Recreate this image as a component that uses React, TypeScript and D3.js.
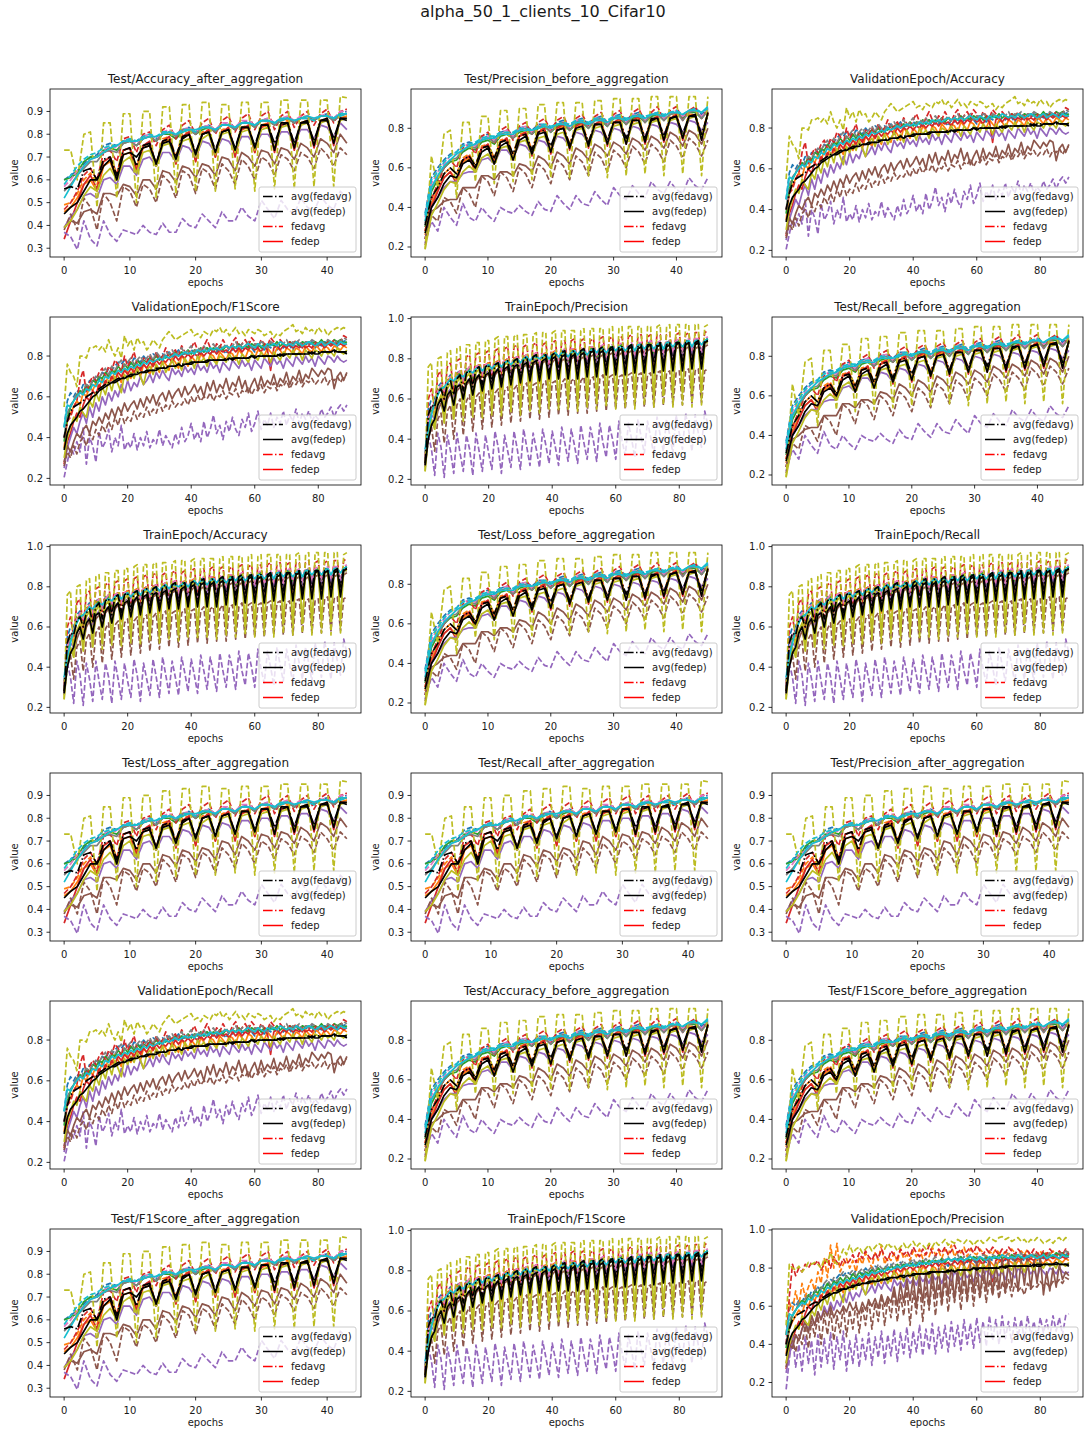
import React from 'react';
import * as d3 from 'd3';

// ---------- colours (matplotlib tab10) ----------
const C = {
  blue: '#1f77b4', orange: '#ff7f0e', green: '#2ca02c', red: '#d62728', purple: '#9467bd',
  brown: '#8c564b', pink: '#e377c2', gray: '#7f7f7f', olive: '#bcbd22', cyan: '#17becf',
};

// ---------- Test/*_after_aggregation (epochs 0..43), values in % ----------
const oliveDashedA = [73,73,60,80,81,48,85,85,52,89,89,50,90,90,52,92,92,54,93,93,55,94,94,55,93,93,56,94,94,55,94,94,56,95,95,56,95,95,57,95,95,57,96.5,96];
const purpleDashedA = [37,35,29.5,42,34,31,42,36,33,38,37,36,40,37,36,41,37,37,43,40,39,45,42,39,46,42,42,48,44,42,51,47,43,51,47,45,52,48,46,53,49,47,55,52];
const brownDashedA = [38,45,38,52,48,38,54,50,42,57,55,48,58,56,50,62,59,52,64,62,54,65,63,56,67,64,58,69,66,60,70,68,62,71,69,64,72,70,65,74,71,66,74,71];
const brownSolidA = [39,42,41,46,47,45,54,54,53,58,57,53,60,60,56,64,63,59,66,65,61,67,66,62,70,69,64,72,70,66,73,72,67,74,73,69,76,74,70,78,76,72,80,76];
const purpleSolidA = [39,44,47,53,54,52,60,61,58,66,66,62,69,70,66,72,72,68,75,74,70,77,76,72,78,77,73,79,79,75,80,80,76,81,81,77,82,82,78,84,83,79,85,82];
const cyanSolidA = [52,57,62,66,69,70,72,74,75,77,77,77,78,79,79,80,81,80,81,82,82,83,83,82,84,84,83,85,85,84,86,86,85,87,87,86,87,88,87,88,88,87,89,89];
const cyanDashedA = [58,62,66,69,71,72,74,75,75,77,78,77,79,80,79,81,81,80,82,82,81,83,83,82,84,84,83,85,85,84,86,86,85,86,87,86,87,87,86,88,88,87,88,89];
const blueDashedA = [60,62,64,67,70,71,75,76,75,77,78,77,79,80,78,81,81,79,82,83,81,83,84,82,84,85,83,85,86,84,86,87,85,87,87,85,87,88,86,88,89,87,89,90];
const greenSolidA = [60,61,63,68,70,70,73,74,73,76,77,75,78,79,77,80,80,78,81,82,80,82,83,81,84,84,82,85,85,83,86,86,84,86,87,85,87,88,86,88,88,86,89,89];
const pinkDashedA = [57,60,64,66,69,70,73,75,74,77,78,76,79,80,78,81,82,80,82,83,81,83,84,82,85,85,83,86,86,84,86,87,85,87,88,86,88,88,87,88,89,87,90,90];
const graySolidA = [55,58,62,65,68,68,72,73,72,76,77,75,78,79,77,80,81,79,82,82,80,83,83,81,84,84,82,85,85,83,86,86,84,86,87,85,87,87,86,88,88,86,88,89];
const redDashedA = [47,50,55,62,65,60,72,73,68,78,79,72,80,81,75,82,84,78,84,86,80,85,87,80,86,88,81,87,89,82,88,90,82,88,90,83,88,90,84,89,91,85,90,91];
const redSolidA = [34,42,50,58,62,56,68,70,62,73,74,64,75,77,66,77,79,67,79,81,68,80,82,70,81,83,70,82,84,72,83,85,72,84,85,73,84,86,74,85,87,75,87,87];
const orangeSolidA = [46,48,52,58,60,55,66,68,60,71,72,64,74,75,66,76,78,67,78,80,68,80,81,70,81,82,71,82,83,72,83,84,73,84,85,74,85,86,75,86,86,76,87,88];
const orangeDashedA = [49,50,54,60,63,58,68,70,63,73,74,66,75,76,67,78,79,70,80,81,71,81,82,72,82,83,73,83,84,74,84,85,74,85,86,75,85,86,76,86,87,77,87,88];
const oliveSolidA = [39,42,47,53,57,55,62,65,60,68,70,63,72,73,66,75,76,68,77,78,70,78,80,71,80,81,72,81,82,73,82,83,74,83,84,75,84,85,76,85,86,77,86,87];
const avgFedavgA = [56,57,56,64,65,60,69,70,62,73,74,66,75,76,67,77,78,70,79,80,72,80,81,73,81,82,74,83,83,75,84,84,76,84,85,76,85,85,77,86,86,78,87,87];
const avgFedepA = [45,48,50,55,60,60,66,69,60,71,72,70,74,75,67,76,77,69,78,80,71,80,81,72,81,82,73,83,83,74,84,84,73,85,85,74,85,86,75,86,87,76,87,86];

// ---------- Test/*_before_aggregation (epochs 0..45) ----------
const oliveDashedB = [18.8,66,50,77,79,45,83,83,53,86,86,52,89,89,53,90,90,54,92,92,55,93,93,55,93,93,56,94,94,55,95,95,56,95,95,57,96,96,56,96,96,57,96,96,56,96];
const purpleDashedB = [22,33,28,40,35,31,42,35,33,40,36,33,40,38,37,41,38,36,43,39,38,46,42,39,46,42,41,48,44,41,50,46,44,51,47,45,53,49,47,53,49,47,55,51,49,55];
const brownDashedB = [21,36,33,45,43,37,50,47,40,56,53,46,58,55,48,60,57,50,62,59,52,64,61,54,66,63,56,68,65,58,69,66,60,71,68,62,72,69,63,74,71,65,75,72,66,74];
const brownSolidB = [24,38,40,43,44,44,50,50,50,56,56,54,58,58,56,62,61,58,66,64,60,68,66,62,70,68,64,72,70,66,73,71,67,75,73,69,76,74,70,78,76,71,79,77,72,80];
const purpleSolidB = [24,40,45,50,53,53,57,58,58,64,65,62,69,69,65,72,71,67,74,73,69,76,75,71,78,77,73,79,78,74,80,79,75,81,80,76,82,81,77,83,82,78,84,83,79,83];
const cyanSolidB = [33,50,56,61,64,67,69,71,72,74,75,75,77,77,77,79,79,79,80,81,80,82,82,81,83,83,82,84,84,83,85,85,84,86,86,85,87,87,86,88,88,87,89,89,88,91];
const cyanDashedB = [36,54,58,63,66,68,71,72,73,75,76,76,78,78,78,80,80,79,81,82,81,82,83,82,84,84,83,85,85,84,86,86,85,86,87,86,87,88,87,88,89,87,89,90,88,90];
const blueDashedB = [37,55,60,64,67,68,72,73,72,76,77,75,78,79,77,80,81,79,82,82,80,83,84,81,84,85,82,85,86,83,86,87,84,87,88,85,87,88,86,88,89,86,89,90,87,90];
const greenSolidB = [30,48,54,60,63,64,68,70,69,73,74,72,76,77,75,78,79,77,80,81,78,81,82,79,82,83,80,84,84,81,85,85,82,85,86,83,86,87,84,87,88,85,88,88,85,89];
const pinkDashedB = [35,52,58,62,66,67,71,72,71,75,76,74,78,79,76,80,81,78,81,82,79,82,83,80,84,84,81,85,85,82,86,86,83,87,87,84,87,88,85,88,89,86,89,89,86,90];
const graySolidB = [32,50,55,60,64,65,69,71,70,74,75,73,77,78,75,79,80,77,81,81,78,82,83,79,83,84,80,84,85,81,85,86,82,86,87,83,87,87,84,87,88,84,88,89,85,89];
const redDashedB = [28,44,52,60,64,60,70,72,67,76,78,72,79,81,74,81,83,77,83,85,79,84,86,80,85,87,81,86,88,82,87,89,82,88,90,83,88,91,84,89,91,84,89,91,85,90];
const redSolidB = [24,40,48,55,58,52,64,66,58,70,72,62,73,75,64,76,78,66,78,80,67,80,82,69,81,83,70,82,84,71,83,85,72,84,86,72,84,86,73,85,87,74,86,87,74,88];
const orangeSolidB = [26,42,49,55,58,54,63,65,58,70,71,63,73,74,65,76,77,67,78,79,68,79,81,70,80,82,71,81,83,72,82,84,73,83,85,73,84,85,74,85,86,75,86,87,75,88];
const orangeDashedB = [28,45,51,57,60,57,65,67,61,71,72,65,74,75,67,77,78,69,79,80,70,80,81,72,81,82,73,82,83,74,83,84,74,84,85,75,85,86,76,86,87,76,87,87,77,88];
const oliveSolidB = [19,36,42,49,53,52,58,61,58,65,67,62,70,71,65,73,74,67,75,76,69,77,78,70,79,80,71,80,81,72,81,82,73,82,83,74,83,84,75,84,85,76,85,86,76,87];
const avgFedavgB = [31,45,50,57,60,57,64,66,61,70,71,65,73,74,67,76,77,69,78,79,71,79,80,72,80,81,73,82,82,74,83,83,75,84,84,75,84,85,76,85,86,77,86,86,77,87];
const avgFedepB = [27,40,45,52,56,55,62,64,60,68,70,62,71,73,64,74,76,67,77,78,68,79,80,70,80,81,71,82,82,72,83,83,72,84,84,73,85,85,74,85,86,75,86,87,74,88];

// ---------- TrainEpoch/* (epochs 0..89) ----------
const oliveDashedT = [24,76,78,45,80,81,48,83,84,50,85,86,49,87,87,51,88,88,50,89,89,52,90,91,51,91,91,53,91,92,52,92,92,54,92,93,53,93,93,55,93,94,54,94,94,55,94,94,54,94,95,56,95,95,55,95,95,56,95,96,55,95,96,56,96,96,55,96,96,57,96,96,56,96,97,57,96,97,56,97,97,57,97,97,56,97,97,57,96,97];
const purpleDashedT = [30,42,35,22,43,36,21,42,34,23,43,33,24,42,35,22,43,34,24,42,33,25,44,36,23,42,34,26,44,35,25,45,36,27,43,35,26,45,37,28,44,36,27,46,38,29,45,37,28,47,38,30,46,39,29,48,38,31,47,40,30,49,39,32,48,40,31,50,41,33,49,41,32,51,42,34,50,42,33,52,43,35,53,44,34,52,43,36,54,47];
const brownDashedT = [26,40,46,34,50,53,38,54,57,40,57,60,42,59,62,44,61,63,45,62,64,46,63,65,47,64,66,48,65,67,49,66,68,50,67,68,50,67,69,51,68,69,52,68,70,52,69,70,53,69,71,53,70,71,54,70,72,54,71,72,55,71,72,55,72,73,56,72,73,56,72,73,56,73,74,57,73,74,57,73,74,57,74,75,58,74,75,58,74,75];
const brownSolidT = [28,42,48,46,54,58,52,60,63,56,64,66,60,67,69,62,69,71,64,71,73,66,72,74,67,74,75,68,75,76,69,76,77,70,77,78,71,78,79,72,78,80,72,79,80,73,80,81,74,80,81,74,81,82,75,81,82,75,82,83,76,82,83,76,83,84,77,83,84,77,84,85,78,84,85,78,84,85,78,85,86,79,85,86,79,85,86,79,86,87];
const purpleSolidT = [27,45,52,50,58,61,56,63,65,60,66,68,63,69,70,65,71,72,67,73,74,68,74,75,70,75,76,71,77,78,72,78,79,73,79,80,74,80,80,75,80,81,75,81,82,76,82,82,77,82,83,77,83,84,78,83,84,78,84,85,79,84,85,79,85,86,80,85,86,80,86,86,80,86,87,81,86,87,81,87,87,81,87,88,82,87,88,82,88,88];
const cyanSolidT = [35,45,52,58,62,65,66,68,70,69,71,72,71,73,74,73,75,76,74,76,77,75,77,78,76,78,79,77,79,80,78,80,81,79,81,81,80,81,82,80,82,83,81,83,83,81,83,84,82,84,84,82,84,85,83,85,85,83,85,86,84,86,86,84,86,87,84,87,87,85,87,87,85,87,88,85,88,88,86,88,88,86,88,89,86,89,89,87,89,90];
const blueDashedT = [33,55,60,60,66,68,65,70,72,67,73,74,69,75,76,71,76,77,72,77,78,73,78,79,74,79,80,75,80,81,76,81,82,77,82,82,77,82,83,78,83,84,78,84,84,79,84,85,79,85,85,80,85,86,80,86,86,81,86,87,81,87,87,81,87,87,82,87,88,82,88,88,82,88,88,83,88,89,83,89,89,83,89,89,84,89,90,84,90,90];
const greenSolidT = [30,48,55,57,63,66,63,68,70,66,71,73,68,73,75,70,75,76,71,76,77,72,77,78,73,78,79,74,79,80,75,80,81,76,81,82,76,82,82,77,82,83,78,83,84,78,84,84,79,84,85,79,85,85,80,85,86,80,86,86,80,86,87,81,86,87,81,87,87,81,87,88,82,87,88,82,88,88,82,88,89,83,88,89,83,89,89,83,89,90];
const pinkDashedT = [31,50,56,58,64,67,64,69,71,67,72,74,69,74,76,71,76,77,72,77,78,73,78,79,74,79,80,75,80,81,76,81,82,77,82,83,77,83,83,78,83,84,79,84,85,79,85,85,80,85,86,80,86,86,81,86,87,81,87,87,81,87,88,82,87,88,82,88,88,82,88,89,83,88,89,83,89,89,83,89,90,84,89,90,84,90,90,84,90,91];
const redDashedT = [28,60,65,55,72,74,60,76,78,63,79,80,65,81,82,66,82,83,68,83,84,69,84,85,70,85,86,71,86,87,72,86,87,72,87,88,73,87,88,74,88,89,74,88,89,75,89,90,75,89,90,76,89,90,76,90,91,77,90,91,77,90,91,77,91,92,78,91,92,78,91,92,78,92,92,79,92,93,79,92,93,79,92,93,80,93,93,80,93,94];
const orangeSolidT = [30,50,56,52,64,66,56,69,71,58,72,74,60,74,76,62,76,77,63,77,78,64,78,79,65,79,80,66,80,81,67,81,82,68,82,83,68,82,83,69,83,84,70,83,84,70,84,85,71,84,85,71,85,86,72,85,86,72,86,86,73,86,87,73,86,87,73,87,87,74,87,88,74,87,88,74,88,88,75,88,89,75,88,89,75,88,89,76,89,89];
const oliveSolidT = [24,42,50,45,58,62,48,65,68,50,68,71,52,71,73,53,73,75,54,74,76,55,76,77,55,77,78,56,78,79,56,79,80,57,80,81,57,80,81,58,81,82,58,82,83,59,82,83,59,83,84,60,83,84,60,84,85,60,84,85,61,85,85,61,85,86,61,85,86,62,86,86,62,86,87,62,86,87,63,87,87,63,87,87,63,87,88,64,88,88];
const avgFedavgT = [28,52,57,56,63,65,60,67,69,62,70,72,64,73,74,66,75,76,67,76,77,68,77,78,69,78,79,70,79,80,71,80,81,72,81,82,72,81,82,73,82,83,74,83,84,74,83,84,75,84,85,75,84,85,76,85,86,76,85,86,77,86,86,77,86,87,77,86,87,78,87,87,78,87,88,78,87,88,79,88,88,79,88,88,79,88,89,80,89,89];
const avgFedepT = [27,40,47,50,57,60,54,62,64,57,66,67,60,68,70,62,70,72,64,72,73,65,73,75,66,75,76,67,76,77,68,77,78,69,78,79,69,79,80,70,80,81,70,81,82,70,81,82,70,82,83,71,83,84,71,83,84,72,84,85,72,84,85,72,85,86,73,85,86,73,86,87,73,86,87,74,86,87,74,87,88,74,87,88,75,87,88,75,88,89];

// ---------- ValidationEpoch/Accuracy, F1Score, Recall (epochs 0..89) ----------
const oliveDashedV = [55,76,72,70,65,80,80,79,84,84,85,83,85,82,88,83,80,84,79,90,85,88,83,89,86,87,83,85,88,86,84,88,90,92,90,88,89,90,91,92,93,90,91,89,92,91,90,93,92,94,91,93,90,92,94,91,92,90,93,92,91,93,92,90,91,92,89,91,90,92,93,94,95.4,92,93,91,94,92,93,91,94,92,93,90,92,93,94,93,94,93];
const redDashedV = [40,48,50,55,58,68,73,62,67,70,68,72,74,70,75,73,78,76,72,80,75,78,82,76,74,79,77,80,76,82,78,80,84,79,81,83,80,85,82,80,84,87,83,81,85,88,84,82,86,84,88,85,83,87,89,84,86,88,85,89,87,84,88,86,85,89,87,85,88,86,84,87,85,88,86,84,87,86,84,87,85,86,84,87,86,88,85,87,90,89];
const brownSolidV = [28,36,33,38,42,40,44,46,42,48,46,50,47,52,49,54,50,55,52,57,53,56,58,54,59,55,60,57,61,56,60,62,58,63,59,62,64,60,65,61,63,66,62,65,60,67,63,68,62,66,64,69,63,67,65,70,64,68,62,66,69,64,70,65,68,66,71,65,69,67,72,66,70,68,73,67,71,69,74,72,70,73,71,74,73,64,70,72,68,72];
const brownDashedV = [26,33,30,36,32,38,40,36,42,39,44,41,46,43,48,44,50,46,52,47,50,48,53,49,52,50,55,51,54,52,57,53,56,54,58,55,57,56,59,56,60,57,61,58,60,59,62,58,61,60,63,59,62,61,64,60,63,62,65,61,64,63,66,62,65,64,67,63,66,65,68,64,67,66,69,65,68,67,69,66,68,67,70,66,69,68,70,67,70,71];
const purpleDashedV = [20.5,28,35,32,38,33,45,27,40,36,28,43,35,38,44,33,40,36,46,34,38,35,42,34,40,36,43,35,39,37,44,36,41,38,35,42,37,45,38,41,47,39,43,38,48,40,44,51,42,46,39,48,43,50,44,41,49,45,52,43,47,53,44,49,46,52,45,50,47,53,46,51,48,54,47,52,49,53,48,51,49,54,50,52,55,50,54,56,53,56];
const purpleSolidV = [25,35,40,45,42,48,52,47,55,50,57,53,60,56,62,58,63,60,66,62,68,63,67,65,70,66,68,71,67,72,69,73,70,68,74,71,73,70,75,72,74,71,76,73,75,72,77,74,76,72,77,75,73,78,76,74,78,75,77,73,78,76,74,79,77,75,79,76,78,74,79,77,75,80,78,76,80,77,79,75,80,78,76,80,79,77,80,78,77,78];
const oliveSolidV = [30,40,45,50,48,55,52,50,58,55,62,58,65,61,68,63,70,66,62,71,68,72,69,74,70,66,73,75,71,76,73,77,72,75,78,74,77,73,79,76,78,74,80,77,79,75,80,78,76,80,79,77,81,78,80,76,81,79,77,81,80,78,82,79,81,77,82,80,78,82,81,79,83,80,82,78,83,81,79,83,82,80,83,81,82,80,84,82,81,83];
const cyanSolidV = [45,56,55,58,60,62,61,64,63,66,65,68,67,70,69,72,71,73,72,74,73,75,74,76,75,77,76,78,77,78,79,78,80,79,80,81,80,81,82,81,82,81,83,82,83,82,84,83,84,83,84,85,84,85,84,85,84,85,86,85,84,86,85,84,86,85,86,85,87,86,85,86,85,87,86,85,86,87,86,85,86,87,85,86,87,86,85,87,86,86];
const grayDashedV = [40,52,56,58,62,60,64,66,65,68,70,69,72,74,71,75,73,76,78,75,77,79,76,78,80,77,79,81,78,82,80,79,82,81,83,80,82,84,81,83,85,82,84,83,85,82,84,86,83,85,84,86,83,85,87,84,86,85,87,84,86,85,87,86,84,87,86,85,87,86,88,85,87,86,88,85,87,86,88,87,85,87,86,88,87,86,88,87,89,88];
const blueDashedV = [45,58,62,60,63,62,66,64,68,67,70,68,72,71,74,73,75,77,76,78,77,76,79,78,77,80,78,79,81,80,78,81,80,82,79,81,83,80,82,81,83,82,80,83,82,84,81,83,82,84,83,81,84,83,85,82,84,83,85,84,82,85,84,83,85,84,86,83,85,84,86,85,83,86,85,84,86,85,87,84,86,85,87,86,85,87,86,88,87,88];
const orangeSolidV = [35,48,52,55,58,56,62,60,65,63,67,64,69,66,71,68,73,70,67,74,72,69,75,73,70,76,74,71,77,75,72,78,76,73,79,77,74,80,78,75,80,78,76,81,79,76,81,80,77,82,80,78,82,81,78,83,81,79,83,82,79,83,82,80,84,82,80,84,83,80,84,83,81,84,83,81,85,83,82,85,84,82,85,84,82,85,84,83,85,84];
const redSolidV = [27,38,42,48,52,50,56,60,58,63,61,66,64,68,66,70,68,72,70,73,71,74,72,75,73,76,74,77,75,78,76,78,77,79,77,80,78,80,79,81,79,81,80,82,80,82,81,83,81,83,82,83,81,84,82,84,82,84,83,85,83,84,82,85,83,73,84,85,83,85,84,86,84,85,84,86,84,85,84,86,85,86,84,86,85,86,85,86,85,86];
const greenSolidV = [38,50,55,58,61,63,62,66,64,68,67,70,69,72,70,73,72,75,73,76,74,77,75,78,76,78,77,79,78,80,78,80,79,81,80,82,80,82,81,83,81,83,82,84,82,84,83,84,83,85,83,85,84,85,84,86,84,85,84,86,85,86,84,86,85,86,85,87,85,86,85,87,86,87,85,87,86,87,86,87,86,88,86,87,86,88,87,88,86,87];
const avgFedavgV = [40,48,53,55,56,57,58,60,61,62,62,64,65,66,67,67,68,69,69,70,70,71,71,72,72,72,73,73,73,74,74,74,75,75,75,75,76,76,76,76,77,77,77,77,77,78,78,78,78,78,78,79,78,79,79,79,79,79,79,80,80,80,80,80,80,80,80,81,80,81,81,81,81,81,81,81,81,82,81,82,82,82,82,82,82,82,82,82,82,82];
const avgFedepV = [34,42,46,48,50,53,54,56,58,60,61,63,64,65,66,67,67,68,69,69,70,70,71,71,72,72,72,73,73,73,74,74,74,75,75,75,76,75,76,76,76,77,77,77,77,77,78,78,78,78,78,78,79,78,79,79,79,79,79,80,79,80,80,80,80,80,80,80,81,80,81,81,81,81,81,81,81,81,82,81,81,82,82,82,82,83,82,82,82,81];

// ---------- ValidationEpoch/Precision: series that differ from the other validation panels ----------
const oliveDashedVP = [50,82,80,79,81,78,80,83,82,83,82,80,85,83,88,84,82,86,90,87,92,88,90,91,88,90,92,89,91,93,92,90,93,91,92,89,91,93,90,92,94,91,93,92,90,93,91,94,92,93,95,92,94,93,95,94,93,95,94,92,94,95,93,94,96,95,94,96,96.5,95,96,94,95,96,94,95,93,95,94,96,95,93,94,95,93,95,96,94,96,95];
const orangeDashedVP = [45,62,58,68,60,72,65,70,74,68,78,72,85,75,92,80,93,78,82,85,80,84,78,86,82,88,84,80,88,84,92,82,86,84,88,83,90,85,87,84,89,86,90,85,88,86,91,87,89,85,90,87,92,86,89,88,91,86,90,88,87,90,88,86,89,87,90,88,86,89,87,90,88,86,89,87,90,85,88,87,89,86,88,87,89,86,88,87,89,88];
const redDashedVP = [40,65,82,76,80,78,82,80,83,82,84,79,82,85,80,86,83,81,85,82,84,87,83,88,85,89,86,84,88,85,90,86,84,89,87,85,90,87,89,86,91,88,86,90,87,92,88,86,90,88,91,87,89,92,88,90,87,89,91,88,92,89,87,90,88,91,89,87,90,88,91,89,87,90,88,86,89,87,90,88,86,89,87,90,88,86,89,87,90,87];
const brownSolidVP = [30,40,38,45,42,48,52,46,55,50,57,53,58,55,60,54,58,56,60,57,62,58,60,56,62,58,63,60,64,59,66,60,65,62,70,60,72,62,74,63,75,60,76,62,78,60,79,64,80,62,81,65,82,63,80,66,83,64,82,67,84,65,82,68,84,66,83,69,85,67,84,70,85,68,84,71,85,69,84,72,86,66,78,68,80,70,82,74,78,76];
const brownDashedVP = [28,38,42,36,45,40,50,38,52,44,55,40,56,45,58,42,55,46,60,44,58,48,62,46,60,50,64,48,62,52,66,50,64,54,68,52,66,55,70,50,68,56,72,52,70,58,74,55,72,60,75,57,73,62,76,58,74,62,77,60,75,64,76,62,74,66,75,64,73,67,74,65,72,68,70,66,72,69,71,70,73,71,72,70,73,72,74,72,75,74];
const purpleDashedVP = [16.4,32,45,28,40,26,44,30,42,24,45,28,43,30,46,27,44,32,47,26,42,30,45,28,43,32,46,29,44,33,47,30,45,34,48,31,46,35,49,33,47,36,50,34,48,37,51,35,49,38,50,36,52,39,50,37,53,40,51,38,54,41,52,39,55,42,53,40,55,43,52,41,54,44,53,42,55,45,52,43,54,46,53,44,55,47,54,45,55,56];

// ---------- panel titles, groups and ticks ----------
const panelTitles = [
  'Test/Accuracy_after_aggregation', 'Test/Precision_before_aggregation', 'ValidationEpoch/Accuracy',
  'ValidationEpoch/F1Score', 'TrainEpoch/Precision', 'Test/Recall_before_aggregation',
  'TrainEpoch/Accuracy', 'Test/Loss_before_aggregation', 'TrainEpoch/Recall',
  'Test/Loss_after_aggregation', 'Test/Recall_after_aggregation', 'Test/Precision_after_aggregation',
  'ValidationEpoch/Recall', 'Test/Accuracy_before_aggregation', 'Test/F1Score_before_aggregation',
  'Test/F1Score_after_aggregation', 'TrainEpoch/F1Score', 'ValidationEpoch/Precision',
];
const panelGroups = ['A','B','V','V','T','B','T','B','T','A','A','A','V','B','B','A','T','VP'];
const xTicksShort = [0, 10, 20, 30, 40];
const xTicksLong = [0, 20, 40, 60, 80];
const yTicksA = [30, 40, 50, 60, 70, 80, 90];
const yTicksB = [20, 40, 60, 80];
const yTicksT = [20, 40, 60, 80, 100];
const legendLabels = ['avg(fedavg)', 'avg(fedep)', 'fedavg', 'fedep'];
const suptitle = 'alpha_50_1_clients_10_Cifar10';

type Series = { color: string; dashed: boolean; values: number[]; avg?: boolean };
const S = (color: string, dashed: boolean, values: number[], avg = false): Series => ({ color, dashed, values, avg });

const groups: Record<string, { series: Series[]; xTicks: number[]; yTicks: number[] }> = {
  A: {
    xTicks: xTicksShort, yTicks: yTicksA,
    series: [
      S(C.blue, true, blueDashedA), S(C.orange, true, orangeDashedA), S(C.orange, false, orangeSolidA),
      S(C.green, false, greenSolidA), S(C.red, true, redDashedA), S(C.red, false, redSolidA),
      S(C.purple, true, purpleDashedA), S(C.purple, false, purpleSolidA),
      S(C.brown, true, brownDashedA), S(C.brown, false, brownSolidA),
      S(C.pink, true, pinkDashedA), S(C.gray, false, graySolidA),
      S(C.olive, true, oliveDashedA), S(C.olive, false, oliveSolidA),
      S(C.cyan, true, cyanDashedA), S(C.cyan, false, cyanSolidA),
      S('#000', true, avgFedavgA, true), S('#000', false, avgFedepA, true),
    ],
  },
  B: {
    xTicks: xTicksShort, yTicks: yTicksB,
    series: [
      S(C.blue, true, blueDashedB), S(C.orange, true, orangeDashedB), S(C.orange, false, orangeSolidB),
      S(C.green, false, greenSolidB), S(C.red, true, redDashedB), S(C.red, false, redSolidB),
      S(C.purple, true, purpleDashedB), S(C.purple, false, purpleSolidB),
      S(C.brown, true, brownDashedB), S(C.brown, false, brownSolidB),
      S(C.pink, true, pinkDashedB), S(C.gray, false, graySolidB),
      S(C.olive, true, oliveDashedB), S(C.olive, false, oliveSolidB),
      S(C.cyan, true, cyanDashedB), S(C.cyan, false, cyanSolidB),
      S('#000', true, avgFedavgB, true), S('#000', false, avgFedepB, true),
    ],
  },
  T: {
    xTicks: xTicksLong, yTicks: yTicksT,
    series: [
      S(C.blue, true, blueDashedT), S(C.orange, false, orangeSolidT), S(C.green, false, greenSolidT),
      S(C.red, true, redDashedT), S(C.purple, true, purpleDashedT), S(C.purple, false, purpleSolidT),
      S(C.brown, true, brownDashedT), S(C.brown, false, brownSolidT), S(C.pink, true, pinkDashedT),
      S(C.olive, true, oliveDashedT), S(C.olive, false, oliveSolidT), S(C.cyan, false, cyanSolidT),
      S('#000', true, avgFedavgT, true), S('#000', false, avgFedepT, true),
    ],
  },
  V: {
    xTicks: xTicksLong, yTicks: yTicksB,
    series: [
      S(C.blue, true, blueDashedV), S(C.orange, false, orangeSolidV), S(C.green, false, greenSolidV),
      S(C.red, true, redDashedV), S(C.red, false, redSolidV),
      S(C.purple, true, purpleDashedV), S(C.purple, false, purpleSolidV),
      S(C.brown, true, brownDashedV), S(C.brown, false, brownSolidV), S(C.gray, true, grayDashedV),
      S(C.olive, true, oliveDashedV), S(C.olive, false, oliveSolidV), S(C.cyan, false, cyanSolidV),
      S('#000', true, avgFedavgV, true), S('#000', false, avgFedepV, true),
    ],
  },
  VP: {
    xTicks: xTicksLong, yTicks: yTicksT,
    series: [
      S(C.blue, true, blueDashedV), S(C.orange, true, orangeDashedVP), S(C.orange, false, orangeSolidV),
      S(C.green, false, greenSolidV), S(C.red, true, redDashedVP), S(C.red, false, redSolidV),
      S(C.purple, true, purpleDashedVP), S(C.purple, false, purpleSolidV),
      S(C.brown, true, brownDashedVP), S(C.brown, false, brownSolidVP), S(C.gray, true, grayDashedV),
      S(C.olive, true, oliveDashedVP), S(C.olive, false, oliveSolidV), S(C.cyan, false, cyanSolidV),
      S('#000', true, avgFedavgV, true), S('#000', false, avgFedepV, true),
    ],
  },
};

// ---------- layout ----------
const W = 1086, H = 1430;
const COL_X = [50, 411, 772];
const ROW_Y = [89, 317, 545, 773, 1001, 1229];
const AX_W = 311, AX_H = 168;
const FONT = 'DejaVu Sans, sans-serif';
const TXT = '#1a1a1a';
const DASH = '5.55,2.4';
const DASHDOT = '9.6,2.4,1.5,2.4';
const LW = 1.7;

function Panel({ idx }: { idx: number }) {
  const g = groups[panelGroups[idx]];
  const x0 = COL_X[idx % 3];
  const y0 = ROW_Y[Math.floor(idx / 3)];
  const n = d3.max(g.series, (s) => s.values.length)! - 1;
  const x = d3.scaleLinear().domain([-0.05 * n, 1.05 * n]).range([0, AX_W]);
  const all = g.series.flatMap((s) => s.values);
  const [mn, mx] = d3.extent(all) as [number, number];
  const pad = (mx - mn) * 0.05;
  const y = d3.scaleLinear().domain([mn - pad, mx + pad]).range([AX_H, 0]);
  const line = d3.line<number>().x((_, i) => x(i)).y((d) => y(d));
  const clipId = `clip${idx}`;
  const lgW = 97, lgH = 65;
  const lgX = AX_W - 5 - lgW, lgY = AX_H - 5 - lgH;
  const legendItems = [
    { color: '#000', dash: DASHDOT },
    { color: '#000', dash: undefined },
    { color: 'red', dash: DASHDOT },
    { color: 'red', dash: undefined },
  ];
  return (
    <g transform={`translate(${x0},${y0})`}>
      <defs>
        <clipPath id={clipId}><rect x={0} y={0} width={AX_W} height={AX_H} /></clipPath>
      </defs>
      <g clipPath={`url(#${clipId})`}>
        {g.series.map((s, k) => (
          <path key={k} d={line(s.values) || ''} fill="none" stroke={s.color}
            strokeWidth={LW} strokeDasharray={s.dashed ? (s.avg ? DASHDOT : DASH) : undefined}
            strokeLinejoin="round" />
        ))}
      </g>
      <rect x={0} y={0} width={AX_W} height={AX_H} fill="none" stroke="#000" strokeWidth={0.8} />
      {g.xTicks.map((t) => (
        <g key={`x${t}`} transform={`translate(${x(t)},${AX_H})`}>
          <line y1={0} y2={3.5} stroke="#000" strokeWidth={0.8} />
          <text y={16.5} textAnchor="middle" fontSize={10} fontFamily={FONT} fill={TXT}>{t}</text>
        </g>
      ))}
      {g.yTicks.map((t) => (
        <g key={`y${t}`} transform={`translate(0,${y(t)})`}>
          <line x1={-3.5} x2={0} stroke="#000" strokeWidth={0.8} />
          <text x={-7} dy="0.35em" textAnchor="end" fontSize={10} fontFamily={FONT} fill={TXT}>{(t / 100).toFixed(1)}</text>
        </g>
      ))}
      <text x={AX_W / 2} y={AX_H + 29} textAnchor="middle" fontSize={10} fontFamily={FONT} fill={TXT}>epochs</text>
      <text transform={`translate(-32,${AX_H / 2}) rotate(-90)`} textAnchor="middle" fontSize={10} fontFamily={FONT} fill={TXT}>value</text>
      <text x={AX_W / 2} y={-6} textAnchor="middle" fontSize={12} fontFamily={FONT} fill={TXT}>{panelTitles[idx]}</text>
      <g transform={`translate(${lgX},${lgY})`}>
        <rect x={0} y={0} width={lgW} height={lgH} rx={2} fill="#fff" fillOpacity={0.8} stroke="#cccccc" strokeWidth={1} />
        {legendItems.map((it, k) => (
          <g key={k} transform={`translate(0,${9.5 + 15 * k})`}>
            <line x1={4} x2={24} stroke={it.color} strokeWidth={1.5} strokeDasharray={it.dash} />
            <text x={32} dy="0.35em" fontSize={10} fontFamily={FONT} fill={TXT}>{legendLabels[k]}</text>
          </g>
        ))}
      </g>
    </g>
  );
}

export default function App() {
  return (
    <svg width={W} height={H} viewBox={`0 0 ${W} ${H}`} style={{ position: 'absolute', left: 0, top: 0, background: '#fff' }}>
      <rect x={0} y={0} width={W} height={H} fill="#fff" />
      <text x={W / 2} y={17} textAnchor="middle" fontSize={16} fontFamily={FONT} fill={TXT}>{suptitle}</text>
      {panelTitles.map((_, i) => <Panel key={i} idx={i} />)}
    </svg>
  );
}
